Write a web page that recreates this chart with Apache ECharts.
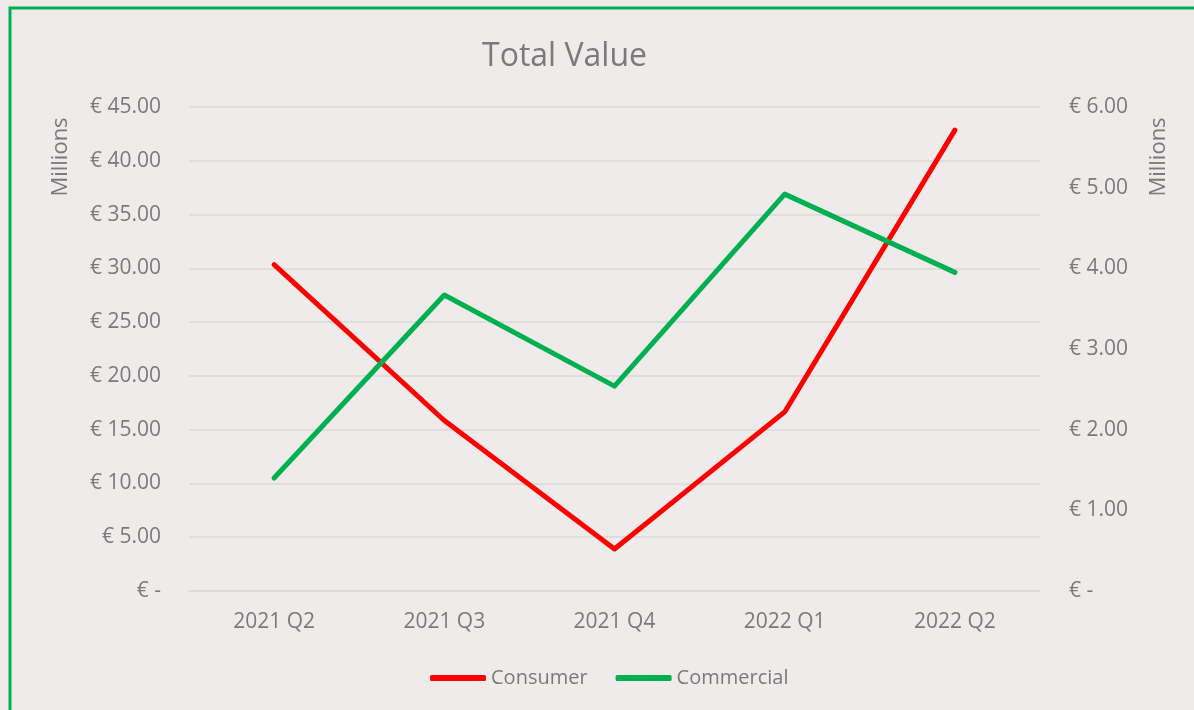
<!DOCTYPE html>
<html>
<head>
<meta charset="utf-8">
<script src="https://cdn.jsdelivr.net/npm/echarts@6/dist/echarts.min.js"></script>
<style>
  html, body { margin: 0; padding: 0; background: #eeebea; }
  #main { width: 1194px; height: 710px; }
</style>
</head>
<body>
<div id="main"></div>
<script>
// quarters on the x axis
let quarters = ['2021 Q2', '2021 Q3', '2021 Q4', '2022 Q1', '2022 Q2'];
// values in millions of euro
let consumer = [30.35, 15.85, 3.9, 16.65, 42.85];   // left axis
let commercial = [1.40, 3.67, 2.54, 4.92, 3.95];    // right axis

let grey = '#7a7a7a';
let font = 'Open Sans';

function euro(v) {
    if (v === 0) return '€ -';
    return '€ ' + v.toFixed(2);
}

window.addEventListener('load', function () {
    var chart = echarts.init(document.getElementById('main'));

    let option = {
        backgroundColor: '#eeebea',
        textStyle: { fontFamily: font },
        title: {
            text: 'Total Value',
            left: 477,
            top: 36,
            textStyle: { color: grey, fontSize: 32, fontWeight: 'normal', fontFamily: font }
        },
        legend: {
            data: ['Consumer', 'Commercial'],
            left: 425,
            top: 663,
            itemWidth: 56,
            itemHeight: 6,
            itemGap: 28,
            icon: 'roundRect',
            textStyle: { color: grey, fontSize: 20, fontFamily: font }
        },
        grid: { left: 189, top: 107, width: 851, height: 484 },
        xAxis: {
            type: 'category',
            data: quarters,
            boundaryGap: true,
            axisLine: { lineStyle: { color: '#dcd9d8', width: 1.5 } },
            axisTick: { show: false },
            axisLabel: { color: grey, fontSize: 21, margin: 21, fontFamily: font }
        },
        yAxis: [{
            type: 'value',
            min: 0,
            max: 45,
            interval: 5,
            axisLine: { show: false },
            axisTick: { show: false },
            axisLabel: { color: grey, fontSize: 21, margin: 28, formatter: euro, fontFamily: font },
            splitLine: { lineStyle: { color: '#dcd9d8', width: 1.5 } }
        }, {
            type: 'value',
            min: 0,
            max: 6,
            interval: 1,
            axisLine: { show: false },
            axisTick: { show: false },
            axisLabel: { color: grey, fontSize: 21, margin: 29, formatter: euro, fontFamily: font },
            splitLine: { show: false }
        }],
        graphic: [{
            type: 'rect',
            shape: { x: 10, y: 8, width: 1200, height: 720 },
            style: { fill: 'none', stroke: '#00b050', lineWidth: 3 },
            silent: true
        }, {
            type: 'text',
            x: 61,
            y: 157,
            rotation: Math.PI / 2,
            style: { text: 'Millions', fill: grey, fontSize: 22, fontFamily: font, align: 'center', verticalAlign: 'middle' }
        }, {
            type: 'text',
            x: 1159,
            y: 157,
            rotation: Math.PI / 2,
            style: { text: 'Millions', fill: grey, fontSize: 22, fontFamily: font, align: 'center', verticalAlign: 'middle' }
        }],
        series: [{
            name: 'Consumer',
            type: 'line',
            data: consumer,
            yAxisIndex: 0,
            symbol: 'none',
            color: '#ff0000',
            lineStyle: { width: 5, color: '#ff0000', cap: 'round', join: 'round' }
        }, {
            name: 'Commercial',
            type: 'line',
            data: commercial,
            yAxisIndex: 1,
            symbol: 'none',
            color: '#00b050',
            lineStyle: { width: 5, color: '#00b050', cap: 'round', join: 'round' }
        }]
    };
    chart.setOption(option);
});
</script>
</body>
</html>
